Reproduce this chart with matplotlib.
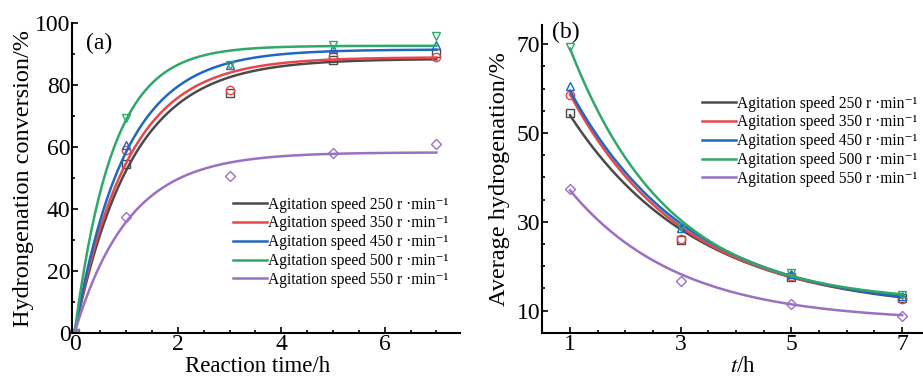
import numpy as np
import matplotlib.pyplot as plt
from matplotlib.ticker import MultipleLocator

plt.rcParams['font.family'] = ['Liberation Serif', 'DejaVu Serif']
plt.rcParams['mathtext.fontset'] = 'stix'

speeds = [250, 350, 450, 500, 550]
colors = ['#4a4a4a', '#e8464c', '#1f68bf', '#2fa86a', '#9a70c2']
markers = ['s', 'o', '^', 'v', 'D']

# (a) conversion vs reaction time
t_a = [0, 1, 3, 5, 7]
conv_250 = [0, 54.5, 77.5, 88.0, 90.4]
conv_350 = [0, 59.0, 78.5, 89.4, 89.0]
conv_450 = [0, 60.8, 86.5, 91.8, 92.9]
conv_500 = [0, 69.5, 86.5, 92.9, 95.8]
conv_550 = [0, 37.5, 50.5, 58.0, 61.0]
conv = [conv_250, conv_350, conv_450, conv_500, conv_550]
# first-order fit y = A(1 - exp(-k t))
fit_a_A = [88.5, 89.0, 91.5, 92.7, 58.3]
fit_a_k = [0.90, 0.96, 1.02, 1.36, 0.956]

# (b) average hydrogenation vs t
t_b = [1, 3, 5, 7]
avg_250 = [54.5, 25.8, 17.6, 12.9]
avg_350 = [58.5, 26.2, 17.9, 12.7]
avg_450 = [60.5, 28.6, 18.3, 13.2]
avg_500 = [69.3, 28.8, 18.5, 13.6]
avg_550 = [37.5, 16.7, 11.6, 8.7]
avg = [avg_250, avg_350, avg_450, avg_500, avg_550]
# exponential decay fit y = c + A r^((t-1)/2)
fit_b_c = [9.7, 10.7, 10.1, 11.7, 7.6]
fit_b_A = [44.3, 48.0, 49.4, 57.3, 29.5]
fit_b_r = [0.42, 0.379, 0.395, 0.326, 0.36]

fig = plt.figure(figsize=(9.23, 3.8), dpi=100)
ax1 = fig.add_axes([0.078, 0.124, 0.42, 0.815])
ax2 = fig.add_axes([0.587, 0.124, 0.412, 0.81])

ta = np.linspace(0, 7, 300)
tb = np.linspace(1, 7, 300)
for i in range(5):
    lab = 'Agitation speed %d r \u00b7min\u207b\u00b9' % speeds[i]
    ax1.plot(ta, fit_a_A[i] * (1 - np.exp(-fit_a_k[i] * ta)), color=colors[i], lw=1.8, label=lab)
    ax1.plot(t_a, conv[i], linestyle='none', marker=markers[i], mfc='none', mec=colors[i],
             ms=6 if markers[i] != 'D' else 5, mew=1.0)
    ax2.plot(tb, fit_b_c[i] + fit_b_A[i] * fit_b_r[i] ** ((tb - 1) / 2), color=colors[i], lw=1.8, label=lab)
    ax2.plot(t_b, avg[i], linestyle='none', marker=markers[i], mfc='none', mec=colors[i],
             ms=6 if markers[i] != 'D' else 5, mew=1.0)

for ax in (ax1, ax2):
    ax.spines['top'].set_visible(False)
    ax.spines['right'].set_visible(False)
    ax.spines['left'].set_linewidth(1.5)
    ax.spines['bottom'].set_linewidth(1.5)
    ax.tick_params(which='both', direction='in', width=1.2, labelsize=17, pad=1)
    ax.tick_params(which='major', length=4)
    ax.tick_params(which='minor', length=2.5)

ax1.set_xlim(-0.05, 7.45)
ax1.set_ylim(0, 100)
ax1.xaxis.set_major_locator(MultipleLocator(2))
ax1.xaxis.set_minor_locator(MultipleLocator(0.5))
ax1.yaxis.set_major_locator(MultipleLocator(20))
ax1.yaxis.set_minor_locator(MultipleLocator(10))
ax1.set_xlabel('Reaction time/h', fontsize=16.5)
ax1.xaxis.set_label_coords(0.48, -0.076)
ax1.set_ylabel('Hydrongenation conversion/%', fontsize=17.5)
ax1.yaxis.set_label_coords(-0.099, 0.5)
ax1.text(0.07, 0.935, '(a)', transform=ax1.transAxes, fontsize=17, ha='center', va='center')
ax1.legend(loc='upper left', bbox_to_anchor=(0.415, 0.44), frameon=False, fontsize=11.2,
           handlelength=2.2, handletextpad=0.05, labelspacing=0.18, borderaxespad=0.0,
           borderpad=0.0)

ax2.set_xlim(0.49, 7.36)
ax2.set_ylim(5, 74.3)
ax2.set_xticks(t_b)
ax2.xaxis.set_minor_locator(MultipleLocator(0.5))
ax2.set_yticks([10, 30, 50, 70])
ax2.yaxis.set_minor_locator(MultipleLocator(5))
ax2.set_xlabel('$t$/h', fontsize=16.5)
ax2.xaxis.set_label_coords(0.53, -0.076)
ax2.set_ylabel('Average hydrogenation/%', fontsize=17.5)
ax2.yaxis.set_label_coords(-0.084, 0.5)
ax2.text(0.063, 0.975, '(b)', transform=ax2.transAxes, fontsize=17, ha='center', va='center')
ax2.legend(loc='upper left', bbox_to_anchor=(0.421, 0.771), frameon=False, fontsize=11.2,
           handlelength=2.2, handletextpad=0.05, labelspacing=0.18, borderaxespad=0.0,
           borderpad=0.0)

fig.savefig('out.png', dpi=100)
